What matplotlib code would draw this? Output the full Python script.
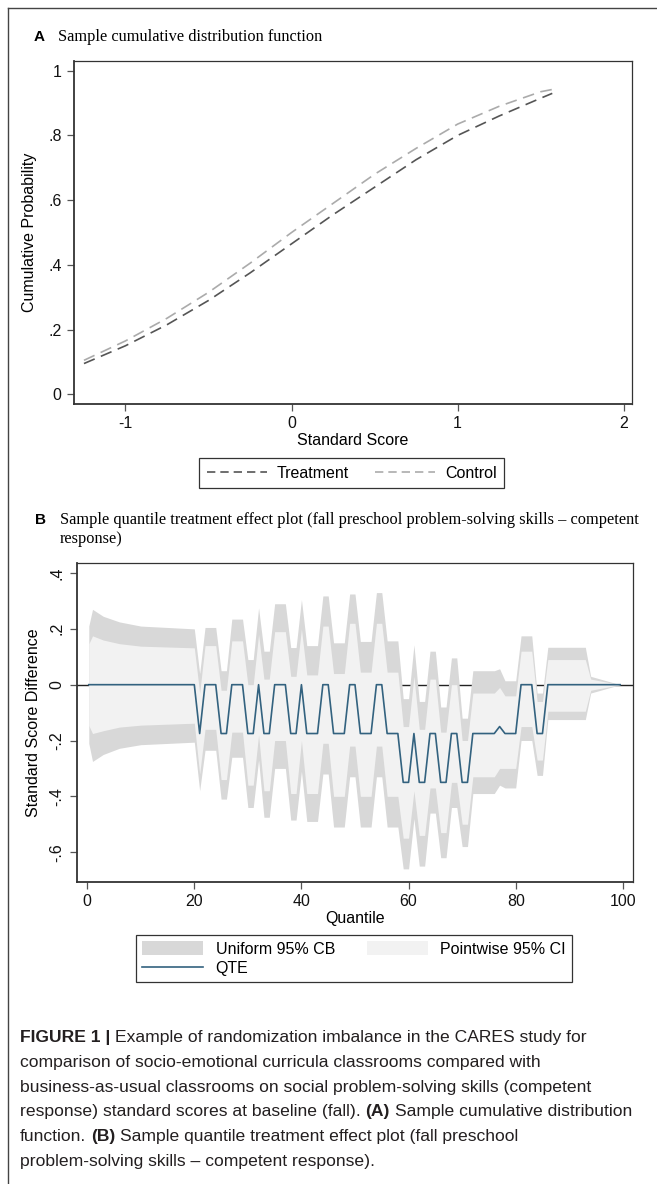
import matplotlib

matplotlib.use("Agg")

import matplotlib.pyplot as plt
import numpy as np
from matplotlib.lines import Line2D
from matplotlib.patches import Patch

W, H = 657, 1184
DPI = 100

SANS = ["Liberation Sans", "DejaVu Sans"]
SERIF = ["Liberation Serif", "DejaVu Serif"]

# Panel A: sample CDFs
score_treatment = [-1.25, -1.0, -0.75, -0.5, -0.25, 0.0, 0.25, 0.5, 0.75, 1.0, 1.25, 1.5, 1.57]
cdf_treatment = [0.095, 0.15, 0.215, 0.29, 0.375, 0.465, 0.555, 0.64, 0.725, 0.80, 0.86, 0.915, 0.93]
score_control = [-1.25, -1.0, -0.75, -0.5, -0.25, 0.0, 0.25, 0.5, 0.75, 1.0, 1.25, 1.5, 1.6]
cdf_control = [0.105, 0.165, 0.235, 0.315, 0.405, 0.50, 0.59, 0.68, 0.76, 0.835, 0.89, 0.935, 0.945]

# Panel B: quantile treatment effects, one entry per flat segment
seg_start = [0.3, 1, 3, 6, 10, 20, 21, 22, 25, 27, 30, 32, 33, 35, 38, 40, 41, 44, 46, 49,
             51, 54, 56, 59, 61, 62, 64, 66, 68, 70, 72, 77, 78, 81, 84, 86, 94, 99.5]
seg_end = [0.3, 1, 3, 6, 10, 20, 21, 24, 26, 29, 31, 32, 34, 37, 39, 40, 43, 45, 48, 50,
           53, 55, 58, 60, 61, 63, 65, 67, 69, 71, 76, 77, 80, 83, 85, 93, 94, 99.5]
qte = [0, 0, 0, 0, 0, 0, -0.175, 0, -0.175, 0, -0.175, 0, -0.175, 0, -0.175, 0, -0.175, 0, -0.175, 0,
       -0.175, 0, -0.175, -0.35, -0.175, -0.35, -0.175, -0.35, -0.175, -0.35, -0.175, -0.15, -0.175, 0, -0.175, 0, 0, 0]
uniform_hi = [0.21, 0.27, 0.245, 0.225, 0.21, 0.2, 0.04, 0.205, 0.05, 0.235, 0.09, 0.275, 0.12, 0.29, 0.133, 0.305,
              0.14, 0.318, 0.15, 0.325, 0.155, 0.33, 0.157, -0.05, 0.143, -0.06, 0.12, -0.08, 0.096, -0.12,
              0.05, 0.057, 0.014, 0.175, -0.03, 0.134, 0.03, 0]
pointwise_hi = [0.146, 0.175, 0.16, 0.147, 0.138, 0.132, -0.03, 0.14, -0.02, 0.157, 0.0, 0.18, 0.02, 0.19, 0.03, 0.2,
                0.035, 0.21, 0.04, 0.22, 0.045, 0.22, 0.045, -0.15, 0.03, -0.16, 0.02, -0.17, 0.0, -0.2,
                -0.03, -0.01, -0.04, 0.12, -0.06, 0.09, 0.02, 0]
pointwise_lo = [-0.146, -0.175, -0.165, -0.152, -0.145, -0.138, -0.32, -0.16, -0.34, -0.17, -0.36, -0.18, -0.38, -0.2,
                -0.39, -0.2, -0.39, -0.21, -0.4, -0.22, -0.4, -0.22, -0.4, -0.55, -0.38, -0.54, -0.37, -0.53, -0.35,
                -0.5, -0.33, -0.3, -0.3, -0.15, -0.27, -0.095, -0.02, 0]
uniform_lo = [-0.21, -0.275, -0.25, -0.228, -0.215, -0.206, -0.38, -0.235, -0.41, -0.26, -0.44, -0.27, -0.475, -0.3,
              -0.485, -0.31, -0.49, -0.32, -0.51, -0.33, -0.51, -0.33, -0.51, -0.66, -0.48, -0.65, -0.46, -0.62,
              -0.44, -0.58, -0.39, -0.36, -0.37, -0.2, -0.325, -0.125, -0.03, 0]

caption_lines = [
    [("FIGURE 1 |", "bold"), ("Example of randomization imbalance in the CARES study for", "normal")],
    [("comparison of socio-emotional curricula classrooms compared with", "normal")],
    [("business-as-usual classrooms on social problem-solving skills (competent", "normal")],
    [("response) standard scores at baseline (fall).", "normal"), ("(A)", "bold"),
     ("Sample cumulative distribution", "normal")],
    [("function.", "normal"), ("(B)", "bold"), ("Sample quantile treatment effect plot (fall preschool", "normal")],
    [("problem-solving skills \u2013 competent response).", "normal")],
]


def expand(values):
    out = []
    for s, e, v in zip(seg_start, seg_end, values):
        out.append(v)
        if e != s:
            out.append(v)
    return np.array(out)


def fx(px):
    return px / W


def fy(py):
    return 1 - py / H


def style_axes(ax):
    for side in ["top", "right"]:
        ax.spines[side].set_linewidth(0.9)
        ax.spines[side].set_color("#333333")
    for side in ["left", "bottom"]:
        ax.spines[side].set_linewidth(1.3)
        ax.spines[side].set_color("#333333")
    ax.tick_params(direction="out", length=5, width=0.9, color="#555555",
                   labelsize=11.5, labelcolor="#111111", pad=4)
    for lab in ax.get_xticklabels() + ax.get_yticklabels():
        lab.set_family(SANS)


fig = plt.figure(figsize=(W / DPI, H / DPI), dpi=DPI)
fig.patch.set_facecolor("white")

# outer frame (left and top edges)
fig.add_artist(Line2D([fx(8), fx(8)], [fy(8), fy(H + 5)], color="#444444", lw=1.0))
fig.add_artist(Line2D([fx(8), fx(W + 5)], [fy(8), fy(8)], color="#444444", lw=1.0))

# ---- Panel A ----
axA = fig.add_axes([fx(74), fy(404), fx(632) - fx(74), fy(61) - fy(404)])
axA.plot(score_treatment, cdf_treatment, color="#555555", lw=1.2, dashes=(7, 4))
axA.plot(score_control, cdf_control, color="#ababab", lw=1.2, dashes=(7, 4))
axA.set_xlim(-1.31, 2.05)
axA.set_ylim(-0.03, 1.03)
axA.set_xticks([-1, 0, 1, 2])
axA.set_xticklabels(["-1", "0", "1", "2"])
axA.set_yticks([0, 0.2, 0.4, 0.6, 0.8, 1.0])
axA.set_yticklabels(["0", ".2", ".4", ".6", ".8", "1"])
style_axes(axA)
axA.set_xlabel("Standard Score", family=SANS, fontsize=11.5, labelpad=1)
axA.set_ylabel("Cumulative Probability", family=SANS, fontsize=11.5, labelpad=8)

legA = axA.legend(
    [Line2D([], [], color="#555555", lw=1.2, dashes=(5, 3)),
     Line2D([], [], color="#ababab", lw=1.2, dashes=(5, 3))],
    ["Treatment", "Control"],
    loc="center", bbox_to_anchor=(fx(351.5), fy(473)), bbox_transform=fig.transFigure,
    ncol=2, handlelength=3.8, columnspacing=1.6, handletextpad=0.6, borderpad=0.45,
    fancybox=False, edgecolor="#333333", framealpha=1,
    prop={"family": SANS, "size": 11.5},
)
legA.get_frame().set_linewidth(0.9)

fig.text(fx(34), fy(41), "A", family=SANS, weight="bold", fontsize=11, va="baseline")
fig.text(fx(58), fy(41), "Sample cumulative distribution function", family=SERIF, fontsize=11.8,
         va="baseline")

# ---- Panel B ----
q = np.concatenate([[s, e] if e != s else [s] for s, e in zip(seg_start, seg_end)])
axB = fig.add_axes([fx(77), fy(882), fx(633) - fx(77), fy(563) - fy(882)])
axB.axhline(0, color="#222222", lw=1.0, zorder=1)
axB.fill_between(q, expand(uniform_lo), expand(uniform_hi), color="#d8d8d8", lw=0, zorder=2)
axB.fill_between(q, expand(pointwise_lo), expand(pointwise_hi), color="#f2f2f2", lw=0, zorder=3)
axB.plot(q, expand(qte), color="#33627f", lw=1.2, zorder=4)
axB.set_xlim(-1.9, 101.9)
axB.set_ylim(-0.707, 0.436)
axB.set_xticks([0, 20, 40, 60, 80, 100])
axB.set_yticks([-0.6, -0.4, -0.2, 0, 0.2, 0.4])
axB.set_yticklabels(["-.6", "-.4", "-.2", "0", ".2", ".4"])
style_axes(axB)
for lab in axB.get_yticklabels():
    lab.set_rotation(90)
    lab.set_va("center")
axB.set_xlabel("Quantile", family=SANS, fontsize=11.5, labelpad=1)
axB.set_ylabel("Standard Score Difference", family=SANS, fontsize=11.5, labelpad=6)

legB = axB.legend(
    [Patch(facecolor="#d8d8d8", edgecolor="none"),
     Line2D([], [], color="#33627f", lw=1.2),
     Patch(facecolor="#f2f2f2", edgecolor="none")],
    ["Uniform 95% CB", "QTE", "Pointwise 95% CI"],
    loc="center", bbox_to_anchor=(fx(354), fy(958.5)), bbox_transform=fig.transFigure,
    ncol=2, handlelength=3.8, handleheight=1.0, columnspacing=2.0, handletextpad=0.8,
    borderpad=0.35, labelspacing=0.25,
    fancybox=False, edgecolor="#333333", framealpha=1,
    prop={"family": SANS, "size": 11.5},
)
legB.get_frame().set_linewidth(0.9)

fig.text(fx(35), fy(524), "B", family=SANS, weight="bold", fontsize=11, va="baseline")
fig.text(fx(60), fy(524),
         "Sample quantile treatment effect plot (fall preschool problem-solving skills \u2013 competent",
         family=SERIF, fontsize=11.8, va="baseline")
fig.text(fx(60), fy(543), "response)", family=SERIF, fontsize=11.8, va="baseline")

# ---- Caption ----
renderer = fig.canvas.get_renderer()
cap_size = 12.6


def text_width(s, weight):
    t = fig.text(0, 0, s, family=SANS, fontsize=cap_size, weight=weight)
    w = t.get_window_extent(renderer).width
    t.remove()
    return w


space_w = text_width("a a", "normal") - text_width("aa", "normal")
y0 = 1042
for i, runs in enumerate(caption_lines):
    x = 20
    y = y0 + i * 24.8
    for text, weight in runs:
        t = fig.text(fx(x), fy(y), text, family=SANS, fontsize=cap_size, weight=weight,
                     color="#231f20", va="baseline")
        x += t.get_window_extent(renderer).width + space_w

fig.savefig("out.png", dpi=DPI)
